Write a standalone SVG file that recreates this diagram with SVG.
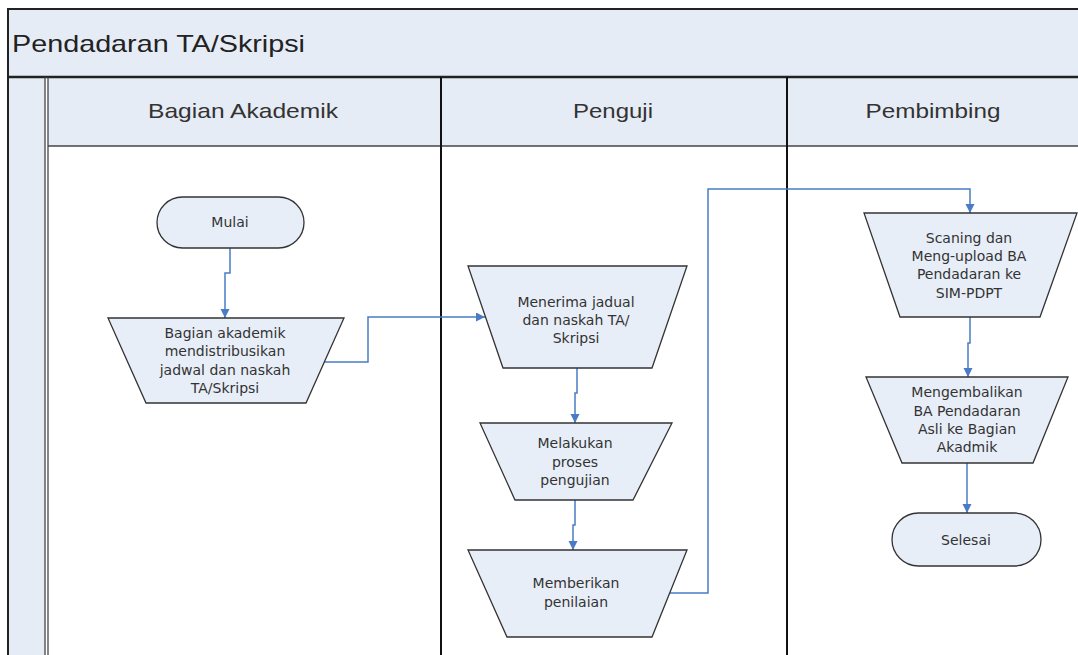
<svg xmlns="http://www.w3.org/2000/svg" width="1078" height="655" viewBox="0 0 1078 655">
  <style>
    .band { fill: #E6ECF6; }
    .frame { fill: none; stroke: #222; stroke-width: 2; }
    .sep { stroke: #111; stroke-width: 2; }
    .thin { stroke: #444; stroke-width: 1.3; }
    .node { fill: #E8EEF8; stroke: #333; stroke-width: 1.3; }
    .label { font-family: "DejaVu Sans", "Liberation Sans", sans-serif; font-size: 14px; fill: #333; text-anchor: middle; }
    .title { font-family: "Liberation Sans", Arial, sans-serif; font-size: 24px; fill: #222; }
    .head { font-family: "Liberation Sans", Arial, sans-serif; font-size: 21px; fill: #333; text-anchor: middle; }
    .flow { fill: none; stroke: #4A7CC6; stroke-width: 1.5; }
  </style>
  <defs>
    <marker id="arrow" markerUnits="userSpaceOnUse" markerWidth="10" markerHeight="10" refX="9" refY="4.5" orient="auto">
      <path d="M0,0 L9,4.5 L0,9 Z" fill="#4A7CC6"/>
    </marker>
  </defs>

  <rect width="1078" height="655" fill="#fff"/>

  <!-- pool and lanes -->
  <g id="pool">
    <rect class="band" x="8" y="9" width="1080" height="68"/>
    <rect class="band" x="8" y="77" width="37" height="590"/>
    <rect class="band" x="48" y="77" width="1040" height="69"/>
    <rect class="frame" x="8" y="9" width="1080" height="660"/>
    <line x1="8" y1="77" x2="1078" y2="77" stroke="#222" stroke-width="2.5"/>
    <line class="thin" x1="48" y1="146" x2="1078" y2="146"/>
    <line class="thin" x1="45" y1="77" x2="45" y2="655"/>
    <line class="thin" x1="48" y1="77" x2="48" y2="655"/>
    <line class="sep" x1="441" y1="77" x2="441" y2="655"/>
    <line class="sep" x1="787" y1="77" x2="787" y2="655"/>
    <text class="title" x="12" y="52" textLength="293" lengthAdjust="spacingAndGlyphs">Pendadaran TA/Skripsi</text>
    <text class="head" x="243" y="118" textLength="190" lengthAdjust="spacingAndGlyphs">Bagian Akademik</text>
    <text class="head" x="613" y="118" textLength="80" lengthAdjust="spacingAndGlyphs">Penguji</text>
    <text class="head" x="933" y="118" textLength="135" lengthAdjust="spacingAndGlyphs">Pembimbing</text>
  </g>

  <!-- connectors -->
  <g id="connectors">
    <path class="flow" d="M230,248 V273 H225 V318" marker-end="url(#arrow)"/>
    <path class="flow" d="M324,362 H368 V317 H485" marker-end="url(#arrow)"/>
    <path class="flow" d="M577,368 V393 H575 V423" marker-end="url(#arrow)"/>
    <path class="flow" d="M575,500 V525 H573 V550" marker-end="url(#arrow)"/>
    <path class="flow" d="M666,593 H708 V189 H970 V213" marker-end="url(#arrow)"/>
    <path class="flow" d="M970,317 V343 H968 V377" marker-end="url(#arrow)"/>
    <path class="flow" d="M967,463 V513" marker-end="url(#arrow)"/>
  </g>

  <!-- Bagian Akademik lane -->
  <g id="mulai">
    <rect class="node" x="157" y="197" width="147" height="51" rx="25.5"/>
    <text class="label" x="230" y="227">Mulai</text>
  </g>
  <g id="distribusi">
    <polygon class="node" points="108,318 344,318 306,403 146,403"/>
    <text class="label" x="225" y="338">Bagian akademik</text>
    <text class="label" x="225" y="356">mendistribusikan</text>
    <text class="label" x="225" y="375">jadwal dan naskah</text>
    <text class="label" x="225" y="393">TA/Skripsi</text>
  </g>

  <!-- Penguji lane -->
  <g id="menerima">
    <polygon class="node" points="468,266 687,266 652,368 503,368"/>
    <text class="label" x="576" y="307">Menerima jadual</text>
    <text class="label" x="576" y="325">dan naskah TA/</text>
    <text class="label" x="576" y="343">Skripsi</text>
  </g>
  <g id="pengujian">
    <polygon class="node" points="480,423 672,423 633,500 515,500"/>
    <text class="label" x="575" y="448">Melakukan</text>
    <text class="label" x="575" y="467">proses</text>
    <text class="label" x="575" y="485">pengujian</text>
  </g>
  <g id="penilaian">
    <polygon class="node" points="468,550 687,550 652,637 507,637"/>
    <text class="label" x="576" y="588">Memberikan</text>
    <text class="label" x="576" y="607">penilaian</text>
  </g>

  <!-- Pembimbing lane -->
  <g id="upload">
    <polygon class="node" points="864,213 1077,213 1040,317 900,317"/>
    <text class="label" x="969" y="243">Scaning dan</text>
    <text class="label" x="969" y="261">Meng-upload BA</text>
    <text class="label" x="969" y="279">Pendadaran ke</text>
    <text class="label" x="969" y="298">SIM-PDPT</text>
  </g>
  <g id="mengembalikan">
    <polygon class="node" points="866,377 1068,377 1033,463 902,463"/>
    <text class="label" x="967" y="397">Mengembalikan</text>
    <text class="label" x="967" y="416">BA Pendadaran</text>
    <text class="label" x="967" y="434">Asli ke Bagian</text>
    <text class="label" x="967" y="452">Akadmik</text>
  </g>
  <g id="selesai">
    <rect class="node" x="892" y="513" width="149" height="53" rx="26.5"/>
    <text class="label" x="966" y="545">Selesai</text>
  </g>
</svg>
